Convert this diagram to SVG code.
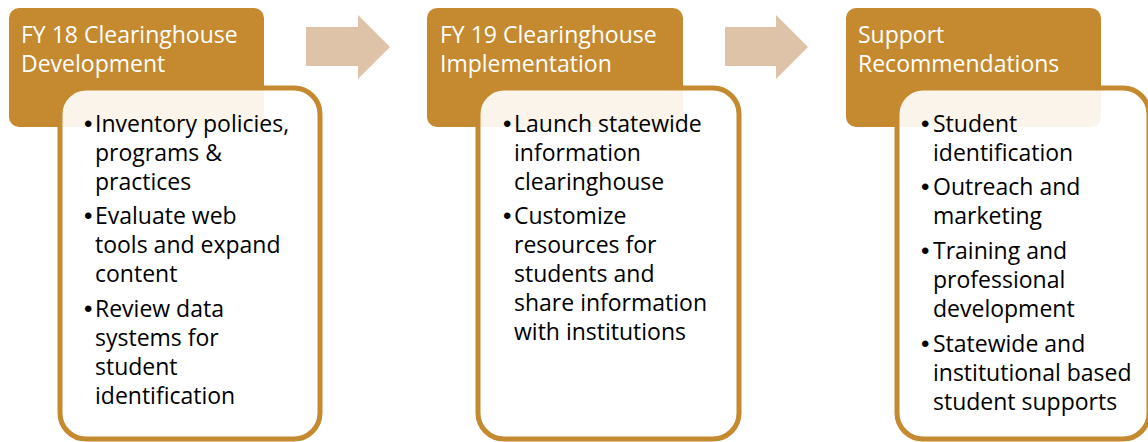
<svg xmlns="http://www.w3.org/2000/svg" width="1148" height="442" viewBox="0 0 1148 442">
<style>
.hdr{fill:#C58A2F}
.body{fill:#FFFFFF;fill-opacity:0.9;stroke:#C58A2F;stroke-width:5}
.arrow{fill:#DFC3A8}
.t{font-family:"Open Sans","Liberation Sans",sans-serif;font-size:23px}
.b{font-family:"Liberation Sans",sans-serif;font-size:24px;fill:#000000}
.ht{fill:#FFFFFF}
.bt{fill:#000000}
</style>
<g id="connectors">
<polygon class="arrow" points="306,27 358,27 358,15 390,47 358,79 358,66 306,66"/>
<polygon class="arrow" points="725,27 776,27 776,15 808,47 776,79 776,66 725,66"/>
</g>
<g id="stage1">
<rect class="hdr" x="9" y="8" width="255" height="119" rx="10"/>
<rect class="body" x="60" y="88" width="260" height="351" rx="26"/>
<text class="t ht" x="21" y="43">FY 18 Clearinghouse</text>
<text class="t ht" x="21" y="72">Development</text>
<text class="b" x="84" y="132">•</text>
<text class="t bt" x="95" y="132">Inventory policies,<tspan x="95" y="161">programs &amp;</tspan><tspan x="95" y="190">practices</tspan></text>
<text class="b" x="84" y="224">•</text>
<text class="t bt" x="95" y="224">Evaluate web<tspan x="95" y="253">tools and expand</tspan><tspan x="95" y="282">content</tspan></text>
<text class="b" x="84" y="317">•</text>
<text class="t bt" x="95" y="317">Review data<tspan x="95" y="346">systems for</tspan><tspan x="95" y="375">student</tspan><tspan x="95" y="404">identification</tspan></text>
</g>
<g id="stage2">
<rect class="hdr" x="427" y="8" width="256" height="119" rx="10"/>
<rect class="body" x="478" y="88" width="261" height="351" rx="26"/>
<text class="t ht" x="440" y="43">FY 19 Clearinghouse</text>
<text class="t ht" x="440" y="72">Implementation</text>
<text class="b" x="503" y="132">•</text>
<text class="t bt" x="514" y="132">Launch statewide<tspan x="514" y="161">information</tspan><tspan x="514" y="190">clearinghouse</tspan></text>
<text class="b" x="503" y="224">•</text>
<text class="t bt" x="514" y="224">Customize<tspan x="514" y="253">resources for</tspan><tspan x="514" y="282">students and</tspan><tspan x="514" y="311">share information</tspan><tspan x="514" y="340">with institutions</tspan></text>
</g>
<g id="stage3">
<rect class="hdr" x="846" y="8" width="255" height="119" rx="10"/>
<rect class="body" x="897" y="88" width="252" height="351" rx="26"/>
<text class="t ht" x="858" y="43">Support</text>
<text class="t ht" x="858" y="72">Recommendations</text>
<text class="b" x="921" y="132">•</text>
<text class="t bt" x="933" y="132">Student<tspan x="933" y="161">identification</tspan></text>
<text class="b" x="921" y="195">•</text>
<text class="t bt" x="933" y="195">Outreach and<tspan x="933" y="224">marketing</tspan></text>
<text class="b" x="921" y="259">•</text>
<text class="t bt" x="933" y="259">Training and<tspan x="933" y="288">professional</tspan><tspan x="933" y="317">development</tspan></text>
<text class="b" x="921" y="352">•</text>
<text class="t bt" x="933" y="352">Statewide and<tspan x="933" y="381">institutional based</tspan><tspan x="933" y="410">student supports</tspan></text>
</g>
</svg>
